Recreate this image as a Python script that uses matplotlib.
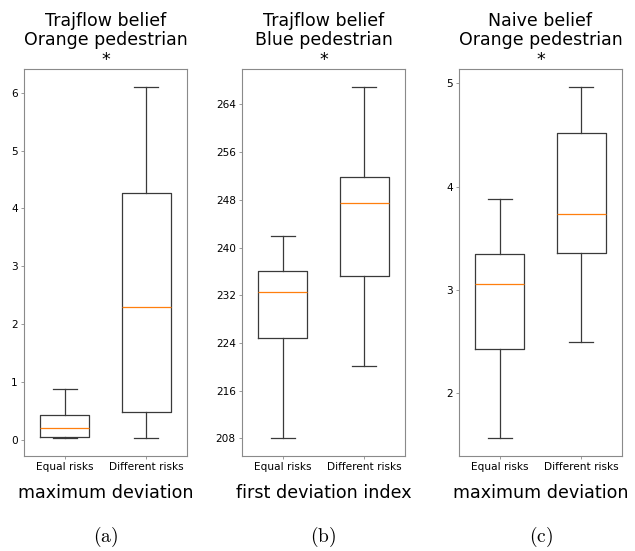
import matplotlib
matplotlib.use('Agg')
import matplotlib.pyplot as plt

plt.rcParams['mathtext.fontset'] = 'cm'

# box statistics: (whislo, q1, med, q3, whishi)
groups = ['Equal risks', 'Different risks']

traj_orange_equal = [0.02, 0.05, 0.20, 0.43, 0.88]
traj_orange_diff = [0.03, 0.48, 2.30, 4.26, 6.11]

traj_blue_equal = [208.0, 224.9, 232.5, 236.0, 242.0]
traj_blue_diff = [220.1, 235.3, 247.5, 251.8, 267.0]

naive_orange_equal = [1.565, 2.435, 3.055, 3.35, 3.88]
naive_orange_diff = [2.50, 3.355, 3.74, 4.52, 4.97]

titles = ['Trajflow belief\nOrange pedestrian\n*',
          'Trajflow belief\nBlue pedestrian\n*',
          'Naive belief\nOrange pedestrian\n*']
xlabels = ['maximum deviation', 'first deviation index', 'maximum deviation']
captions = ['(a)', '(b)', '(c)']
yticks = [[0, 1, 2, 3, 4, 5, 6],
          [208, 216, 224, 232, 240, 248, 256, 264],
          [2, 3, 4, 5]]

panels = [(traj_orange_equal, traj_orange_diff),
          (traj_blue_equal, traj_blue_diff),
          (naive_orange_equal, naive_orange_diff)]

lefts = [24, 242, 459]


def stats(vals, label):
    lo, q1, med, q3, hi = vals
    return dict(whislo=lo, q1=q1, med=med, q3=q3, whishi=hi, fliers=[], label=label)


fig = plt.figure(figsize=(6.35, 5.51), dpi=100)
W, H = 635.0, 551.0

line_col = '#3a3a3a'
spine_col = '#8a8a8a'

for i, (eq, df) in enumerate(panels):
    ax = fig.add_axes([lefts[i] / W, (H - 456) / H, 163 / W, 387 / H])
    lp = dict(color=line_col, linewidth=0.9)
    ax.bxp([stats(eq, groups[0]), stats(df, groups[1])], widths=0.6,
           boxprops=lp, whiskerprops=lp, capprops=lp,
           medianprops=dict(color='#ff7f0e', linewidth=0.9),
           showfliers=False)
    ax.set_yticks(yticks[i])
    ax.tick_params(labelsize=7.6, length=2.5, width=0.6, color=spine_col, pad=2)
    for s in ax.spines.values():
        s.set_color(spine_col)
        s.set_linewidth(0.8)
    ax.set_title(titles[i], fontsize=12.5, pad=1, linespacing=1.12)
    cx = (lefts[i] + 81.5) / W
    fig.text(cx, 1 - 493 / H, xlabels[i], fontsize=12.6, ha='center', va='center')
    fig.text(cx, 1 - 537 / H, r'$\mathrm{%s}$' % captions[i], fontsize=14,
             ha='center', va='center')

fig.savefig('out.png', dpi=100)
